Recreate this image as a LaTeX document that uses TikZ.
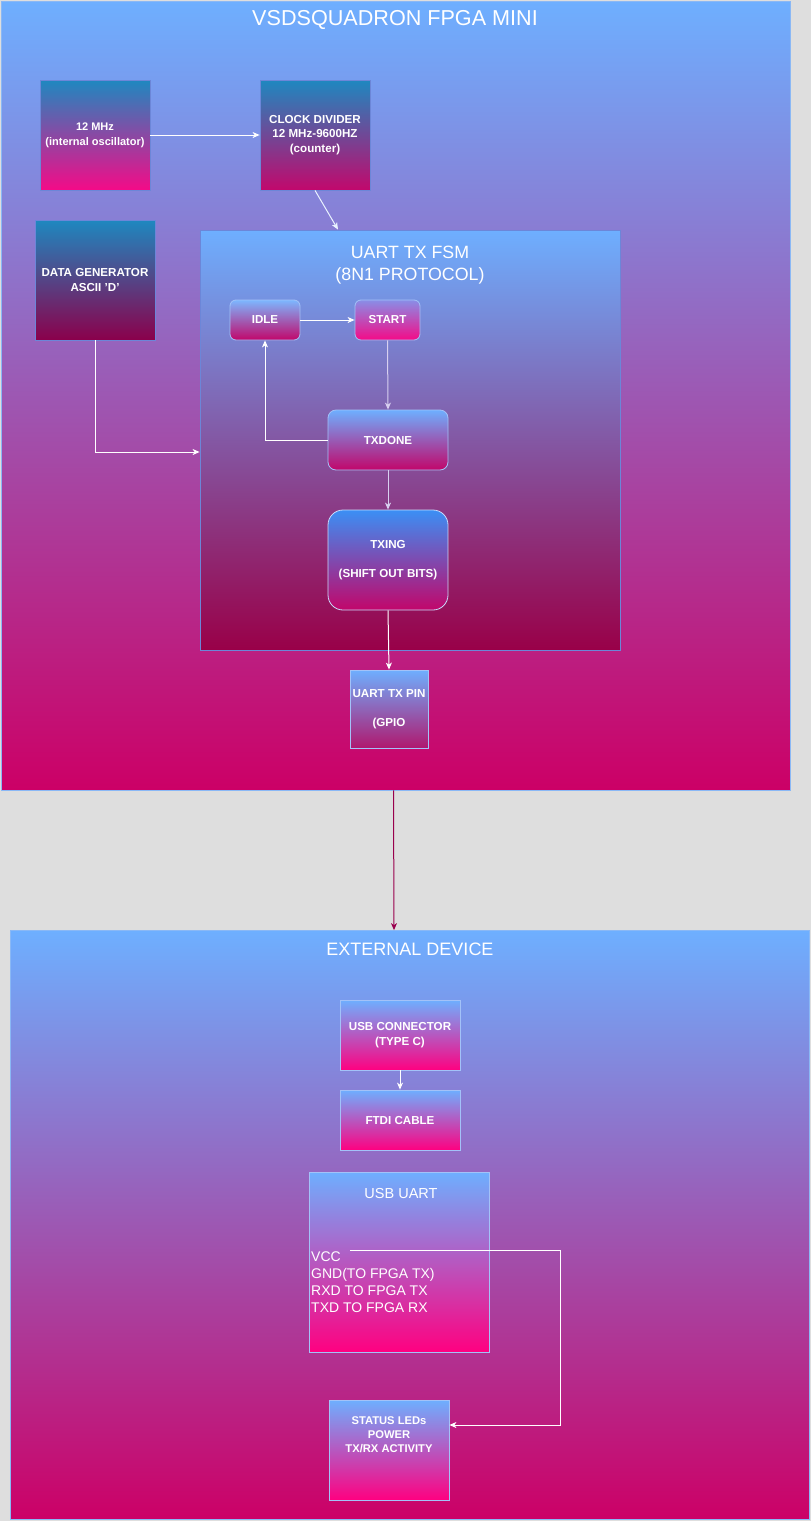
\documentclass[tikz,border=0pt]{standalone}
\usepackage{fontspec}
\setmainfont{Liberation Sans}
\usetikzlibrary{arrows.meta}
\definecolor{bg}{HTML}{DEDEDE}
\definecolor{sky}{HTML}{6EAFFF}
\definecolor{mag}{HTML}{CC0066}
\definecolor{teal}{HTML}{1E88C0}
\definecolor{pinkA}{HTML}{F50A87}
\definecolor{pinkB}{HTML}{FF0080}
\definecolor{clkbot}{HTML}{C2086C}
\definecolor{dgbot}{HTML}{8B004B}
\definecolor{fsmbot}{HTML}{990048}
\definecolor{stbot}{HTML}{C2066A}
\definecolor{txingtop}{HTML}{3B8FF5}
\definecolor{pinbot}{HTML}{B0186E}
\definecolor{boxline}{HTML}{A3C2F8}
\definecolor{darkline}{HTML}{6C86D8}
\definecolor{frameline}{HTML}{8AB8F5}
\definecolor{lav}{HTML}{D8D0F0}
\definecolor{maroon}{HTML}{99004D}
\tikzset{
  box/.style={draw=boxline, line width=0.8pt, inner sep=0pt, text=white,
    font=\bfseries\fontsize{11.6}{14.5}\selectfont, align=center},
  frame/.style={draw=frameline, line width=0.8pt, top color=sky, bottom color=mag},
  ttl/.style={text=white, align=center, inner sep=0pt},
  arr/.style={-{Stealth[length=7pt,width=6pt,inset=2pt]}, white, line width=1pt},
}
\begin{document}
\begin{tikzpicture}[x=1pt,y=-1pt]
\fill[bg] (0,0) rectangle (811,1521);
\useasboundingbox (0,0) rectangle (811,1521);

% frames
\node[frame, minimum width=789pt, minimum height=789pt, inner sep=0pt] (fpga) at (395.5,395.5) {};
\node[ttl, font=\fontsize{21.6}{26}\selectfont] (fpgattl) at (395,20) {VSDSQUADRON FPGA MINI};

\node[box, draw=darkline, top color=teal, bottom color=pinkA, minimum width=110pt, minimum height=110pt, font=\bfseries\fontsize{11}{15}\selectfont] (osc) at (95,135) {12 MHz\\(internal oscillator)};
\node[box, draw=darkline, top color=teal, bottom color=clkbot, minimum width=110pt, minimum height=110pt] (clk) at (315,135) {CLOCK DIVIDER\\12 MHz-9600HZ\\(counter)};
\node[box, draw=darkline, top color=teal, bottom color=dgbot, minimum width=120pt, minimum height=120pt] (dg) at (95,280) {DATA GENERATOR\\ASCII 'D'};

\node[draw=darkline, line width=0.8pt, top color=sky, bottom color=fsmbot, minimum width=420pt, minimum height=420pt, inner sep=0pt] (fsm) at (410,440) {};
\node[ttl, font=\fontsize{17.8}{22.5}\selectfont] (fsmttl) at (410,265) {UART TX FSM\\(8N1 PROTOCOL)};

\node[box, rounded corners=6pt, top color=sky!90!white, bottom color=stbot, minimum width=70pt, minimum height=40pt] (idle) at (265,320) {IDLE};
\node[box, rounded corners=6pt, top color=sky!80!pinkA, bottom color=pinkA, minimum width=65pt, minimum height=40pt] (start) at (387.5,320) {START};
\node[box, rounded corners=8pt, top color=sky, bottom color=stbot, minimum width=120pt, minimum height=60pt] (txdone) at (388,440) {TXDONE};
\node[box, rounded corners=15pt, draw=boxline!60!white, top color=txingtop, bottom color=stbot, minimum width=120pt, minimum height=100pt] (txing) at (388,560) {TXING\\[15pt](SHIFT OUT BITS)};

\node[box, top color=sky, bottom color=pinbot, minimum width=78pt, minimum height=78pt] (pin) at (389,709) {UART TX PIN\\[14.5pt](GPIO};

% external
\node[frame, minimum width=799pt, minimum height=589pt, inner sep=0pt] (ext) at (410,1225) {};
\node[ttl, font=\fontsize{18}{22}\selectfont] (extttl) at (410,949) {EXTERNAL DEVICE};

\node[box, top color=sky, bottom color=pinkB, minimum width=120pt, minimum height=70pt] (usbc) at (400,1035) {USB CONNECTOR\\(TYPE C)};
\node[box, top color=sky, bottom color=pinkB, minimum width=120pt, minimum height=60pt] (ftdi) at (400,1120) {FTDI CABLE};
\node[box, top color=sky, bottom color=pinkB, minimum width=180pt, minimum height=180pt] (uart) at (399,1262) {};
\node[ttl, font=\fontsize{14.5}{17}\selectfont] (uartttl) at (401,1193) {USB UART};
\node[ttl, align=left, anchor=north west, font=\fontsize{14}{17}\selectfont] (uartlines) at (311,1252) {VCC\\GND(TO FPGA TX)\\RXD TO FPGA TX\\TXD TO FPGA RX};
\coordinate (vcc) at (350,1250);
\node[box, top color=sky, bottom color=pinkB, minimum width=120pt, minimum height=100pt] (led) at (389,1450) {};
\node[ttl, font=\bfseries\fontsize{11.2}{14}\selectfont] (ledtxt) at (389,1435) {STATUS LEDs\\POWER\\TX/RX ACTIVITY};

% connectors
\draw[arr] (osc.east) -- (clk.west);
\draw[arr, white!85!sky] (clk.south) -- ([xshift=-72pt]fsm.north);
\draw[arr] (dg.south) |- ([yshift=-12pt]fsm.west);
\draw[arr] (idle.east) -- (start.west);
\draw[arr, lav] (start.south) -- (txdone.north);
\draw[arr] (txdone.west) -| (idle.south);
\draw[arr, lav] (txdone.south) -- (txing.north);
\draw[arr] (txing.south) -- (pin.north);
\draw[arr, maroon] ([xshift=-2pt]fpga.south) -- ([xshift=-16pt]ext.north);
\draw[arr] (usbc.south) -- (ftdi.north);
\draw[arr] (vcc) -- (560,1250) |- ([yshift=25pt]led.east);
\end{tikzpicture}
\end{document}
